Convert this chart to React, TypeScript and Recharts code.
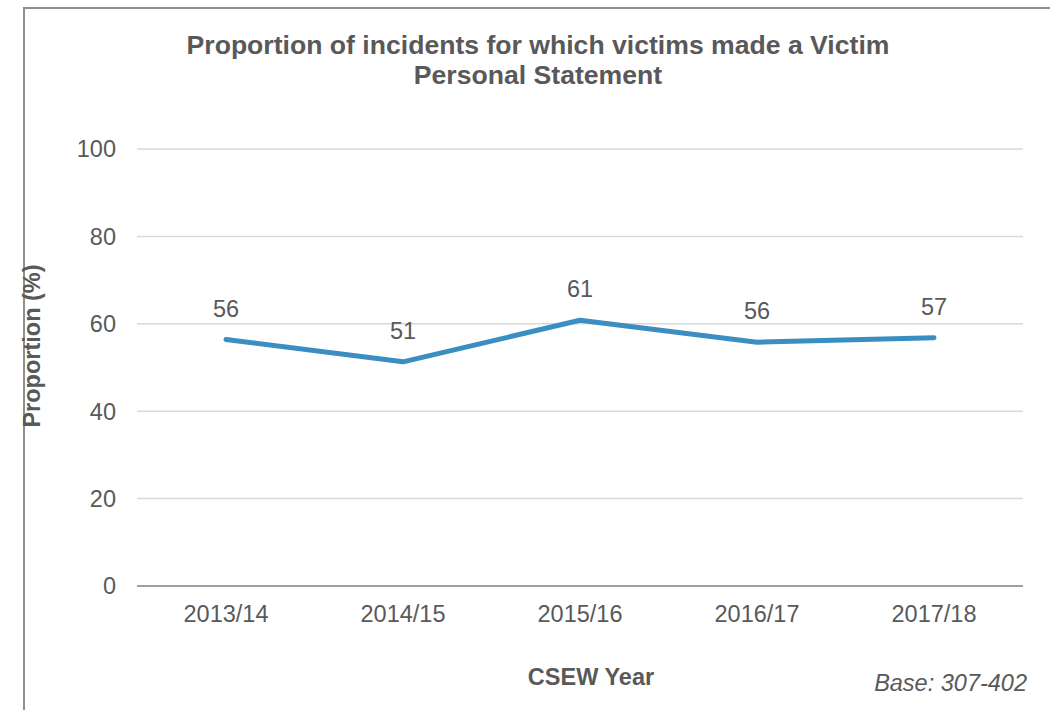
import { CartesianGrid, LabelList, Line, LineChart, XAxis, YAxis } from "recharts";

// CSEW survey years on the category axis, proportion (%) of incidents with a VPS.
const years = ["2013/14", "2014/15", "2015/16", "2016/17", "2017/18"];
const proportions = [56.4, 51.3, 60.8, 55.8, 56.8];
const yTicks = [0, 20, 40, 60, 80, 100];

const chartData = years.map((year, i) => ({ year, value: proportions[i] }));

const FONT = '"Liberation Sans", Arial, sans-serif';
const TEXT = "#595959";

function PointLabel(props: any) {
  const { x, y, value } = props;
  return (
    <text x={x} y={y - 23} textAnchor="middle" fontSize={23.5} fill={TEXT} fontFamily={FONT}>
      {Math.round(Number(value))}
    </text>
  );
}

export default function App() {
  return (
    <div
      style={{
        position: "absolute",
        left: 0,
        top: 0,
        width: 1050,
        height: 710,
        overflow: "hidden",
        background: "#fff",
        fontFamily: FONT,
      }}
    >
      {/* chart frame, runs off the right and bottom of the picture */}
      <div
        style={{
          position: "absolute",
          left: 23,
          top: 7,
          width: 1100,
          height: 800,
          border: "2px solid #8f8f8f",
        }}
      />
      <LineChart
        width={1050}
        height={710}
        data={chartData}
        margin={{ top: 149, right: 27, bottom: 0, left: 0 }}
        style={{ position: "absolute", left: 0, top: 0 }}
      >
        <CartesianGrid vertical={false} stroke="#d9d9d9" strokeWidth={1.5} />
        <XAxis
          dataKey="year"
          height={124}
          padding={{ left: 89, right: 89 }}
          tickLine={false}
          tickSize={0}
          tickMargin={19}
          axisLine={{ stroke: "#8a8a8a", strokeWidth: 1.5 }}
          tick={{ fontSize: 23.5, fill: TEXT, fontFamily: FONT }}
        />
        <YAxis
          width={137}
          domain={[0, 100]}
          ticks={yTicks}
          axisLine={false}
          tickLine={false}
          tickSize={0}
          tickMargin={21}
          tick={{ fontSize: 23.5, fill: TEXT, fontFamily: FONT }}
        />
        <Line
          type="linear"
          dataKey="value"
          stroke="#3a8ec2"
          strokeWidth={5}
          strokeLinecap="round"
          strokeLinejoin="round"
          dot={false}
          activeDot={false}
          isAnimationActive={false}
        >
          <LabelList dataKey="value" content={PointLabel} />
        </Line>
      </LineChart>
      <svg
        width={1050}
        height={710}
        style={{ position: "absolute", left: 0, top: 0, pointerEvents: "none" }}
      >
        <text x={538} y={54} textAnchor="middle" fontSize={26.6} fontWeight="bold" fill={TEXT} fontFamily={FONT}>
          Proportion of incidents for which victims made a Victim
        </text>
        <text x={538} y={84} textAnchor="middle" fontSize={26.6} fontWeight="bold" fill={TEXT} fontFamily={FONT}>
          Personal Statement
        </text>
        <text
          x={32}
          y={346}
          transform="rotate(-90 32 346)"
          textAnchor="middle"
          dominantBaseline="central"
          fontSize={23.5}
          fontWeight="bold"
          fill={TEXT}
          fontFamily={FONT}
        >
          Proportion (%)
        </text>
        <text x={591} y={685} textAnchor="middle" fontSize={23.5} fontWeight="bold" fill={TEXT} fontFamily={FONT}>
          CSEW Year
        </text>
        <text x={1027} y={691} textAnchor="end" fontSize={23.5} fontStyle="italic" fill={TEXT} fontFamily={FONT}>
          Base: 307-402
        </text>
      </svg>
    </div>
  );
}
